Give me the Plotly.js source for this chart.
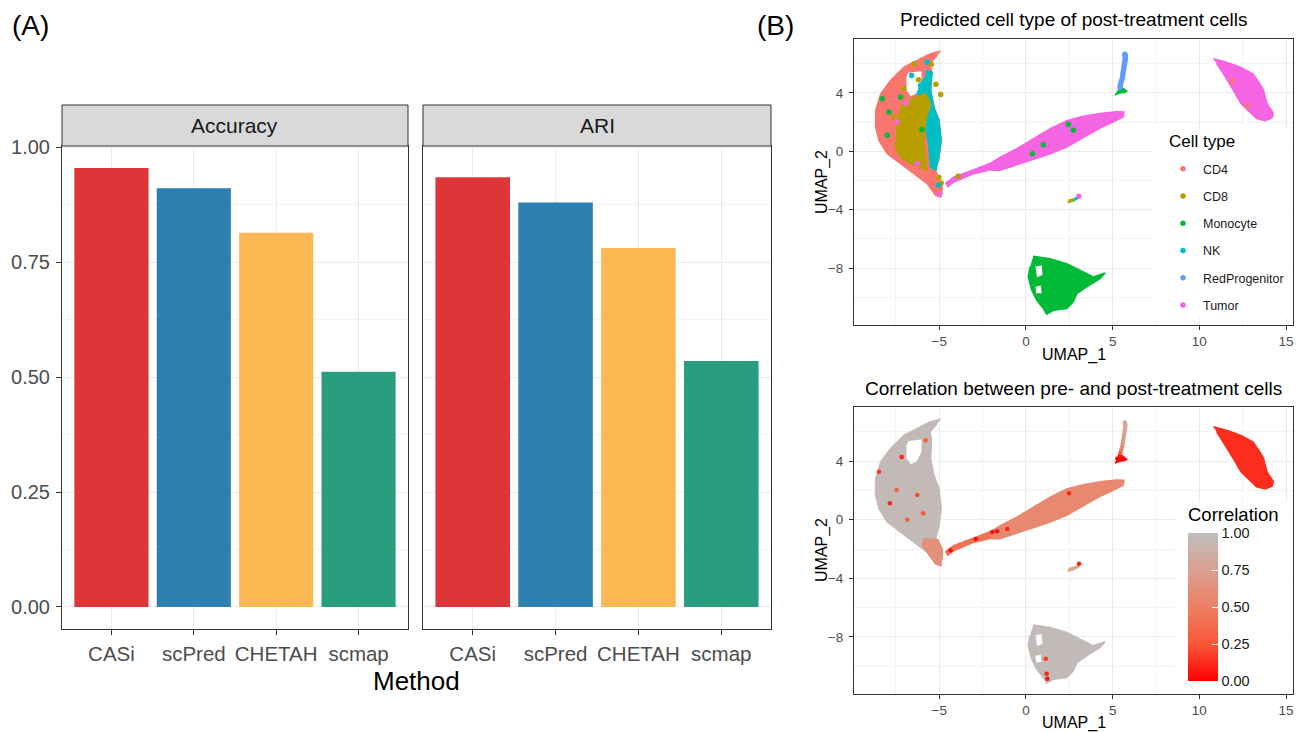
<!DOCTYPE html>
<html><head><meta charset="utf-8">
<script src="https://cdn.plot.ly/plotly-3.0.1.min.js"></script>
<style>html,body{margin:0;padding:0;background:#fff}</style>
</head><body><div id="chart" style="width:1304px;height:733px"></div>
<script>
// ---------- Panel A data ----------
const methods = ['CASi', 'scPred', 'CHETAH', 'scmap'];
const accuracy = [0.955, 0.911, 0.814, 0.512];
const ari = [0.935, 0.880, 0.781, 0.535];
const methodColors = ['#DC3639', '#2E80B0', '#FEB853', '#299E7F'];
const yTicks = [0, 0.25, 0.5, 0.75, 1];
const yTickText = ['0.00', '0.25', '0.50', '0.75', '1.00'];

// ---------- Panel B data (UMAP cluster outlines) ----------
const cellTypes = ['CD4', 'CD8', 'Monocyte', 'NK', 'RedProgenitor', 'Tumor'];
const cellColors = ['#F8766D', '#B79F00', '#00BA38', '#00BFC4', '#619CFF', '#F564E3'];

const leftX = [-4.92,-5.5,-6.08,-7.04,-7.81,-8.38,-8.67,-8.67,-8.48,-8.0,-7.23,-6.46,-5.7,-5.21,-4.92,-4.83,-5.0,-5.21,-5.02,-4.89,-5.02,-5.31,-5.5,-5.45,-5.55,-5.12];
const leftY = [6.87,6.69,6.35,5.77,4.86,3.95,2.81,1.67,0.75,-0.16,-0.84,-1.53,-2.21,-3.01,-3.13,-2.44,-2.0,-1.3,-0.39,0.75,2.12,3.03,4.18,5.5,6.0,6.58];
const leftHoleX = [-6.75,-5.98,-5.98,-6.27,-6.65,-6.94,-6.94];
const leftHoleY = [5.43,5.55,4.64,3.95,3.72,4.18,4.98];
const nkX = [-5.79,-5.41,-5.5,-5.31,-5.02,-4.89,-5.02,-5.21,-5.5,-5.6,-5.79,-5.98,-6.27,-6.08,-5.79];
const nkY = [5.55,5.43,4.18,3.03,2.12,0.75,-0.39,-1.3,-1.07,0.29,1.67,2.81,3.95,4.64,5.09];
const cd8X = [-7.23,-6.56,-5.79,-5.5,-5.79,-5.89,-5.79,-5.7,-6.08,-6.65,-7.23,-7.52,-7.43,-7.43];
const cd8Y = [3.03,3.61,3.95,3.27,2.12,0.75,-0.39,-1.3,-1.07,-0.84,-0.39,0.29,1.44,2.35];
const tailX = [-5.9,-5.1,-4.83,-4.83,-4.92,-5.21,-5.7,-6.0];
const tailY = [-1.3,-1.35,-2.0,-2.44,-3.13,-3.01,-2.21,-1.7];
const armThinX = [-4.65,-4.15,-3.0,-2.0,-2.0,-3.0,-4.15,-4.55];
const armThinY = [-2.2,-1.76,-1.25,-0.78,-1.25,-1.53,-2.1,-2.45];
const armMainX = [-2.0,-1.5,-0.5,0.42,1.4,2.35,3.3,4.27,5.2,5.65,5.6,5.0,4.27,3.3,2.35,1.4,0.42,-0.5,-1.5,-2.0];
const armMainY = [-0.78,-0.42,0.2,0.87,1.55,2.1,2.4,2.6,2.72,2.7,2.35,2.0,1.6,0.95,0.3,-0.16,-0.55,-0.95,-1.3,-1.3];
const tumor2X = [10.81,11.6,12.4,13.1,13.5,13.7,13.9,14.27,14.2,13.8,13.3,12.4,11.96,11.4,11.0];
const tumor2Y = [6.35,6.1,5.75,5.3,4.6,4.18,3.27,2.6,2.3,2.1,2.25,3.27,4.18,5.3,6.0];
const monoX = [0.42,1.38,2.35,3.12,3.88,4.56,4.27,3.5,2.93,2.73,2.35,1.58,1.19,1.0,0.62,0.33,0.13,0.23];
const monoY = [-7.19,-7.35,-7.7,-8.15,-8.61,-8.33,-8.72,-9.29,-9.75,-10.32,-10.77,-10.89,-11.16,-10.77,-10.2,-9.52,-8.61,-7.92];
const monoHole1X = [0.5,0.6,1.0,0.95];
const monoHole1Y = [-7.9,-8.7,-8.5,-7.8];
const monoHole2X = [0.5,0.55,0.95,0.9];
const monoHole2Y = [-9.3,-9.8,-9.75,-9.2];
const monoSmallX = [5.14,5.33,5.52,5.81,5.62];
const monoSmallY = [3.84,4.18,4.4,4.13,4.0];
const smallCd8X = [2.4,2.75,2.78,2.45];
const smallCd8Y = [-3.52,-3.4,-3.25,-3.35];
const smallNkX = [2.75,3.05,3.1,2.78];
const smallNkY = [-3.4,-3.2,-3.05,-3.25];
const redProgX = [5.42,5.45,5.5,5.55,5.58,5.6,5.63,5.65,5.68,5.7,5.72,5.73,5.72,5.7];
const redProgY = [4.4,4.6,4.8,5.0,5.2,5.4,5.6,5.8,6.0,6.15,6.3,6.45,6.55,6.65];

// scattered single cells (top panel)
const cd4DotX = [11.9,12.77,-4.95,-5.1];
const cd4DotY = [4.82,3.15,-2.85,-2.6];
const cd8DotX = [-4.92,-6.46,-5.46,-5.02,-4.89,-3.92,-7.04,-7.62,-6.2,-5.2];
const cd8DotY = [3.9,6.0,5.96,-1.8,-2.17,-1.71,4.29,2.35,4.9,4.6];
const monoDotX = [-8.29,-7.9,-8.0,-7.23,2.44,2.73,0.37,1.0,-6.0];
const monoDotY = [3.61,2.69,1.1,3.72,1.85,1.44,-0.16,0.46,1.5];
const nkDotX = [-6.08,-5.7,-5.05,-6.6];
const nkDotY = [4.52,6.1,-2.3,5.2];
const tumorDotX = [-7.43,-5.02,-6.27,3.05,-6.9];
const tumorDotY = [2.01,-2.9,-0.84,-3.07,3.3];

// correlation values (bottom panel)
const corrLeft = 0.96, corrTail = 0.62, corrArmThin = 0.42, corrArmMain = 0.57;
const corrTumor2 = 0.13, corrMono = 0.97, corrMonoSmall = 0.03, corrSmall = 0.78;
const redProgCorr = [0.1,0.3,0.5,0.6,0.65,0.7,0.72,0.75,0.75,0.78,0.8,0.8,0.8,0.8];
const corrDotX = [-7.17,-8.48,-7.85,-7.46,-6.27,-5.93,-6.85,-5.79,-4.35,-2.9,-1.94,-1.66,-1.08,2.48,1.23,1.19,1.14,3.06,5.27];
const corrDotY = [4.29,3.27,1.13,2.03,1.69,0.45,0.0,5.42,-2.08,-1.31,-0.84,-0.79,-0.63,1.81,-10.85,-10.51,-9.49,-3.0,4.18];
const corrDotV = [0.1,0.15,0.1,0.3,0.2,0.25,0.3,0.3,0.05,0.05,0.05,0.05,0.1,0.1,0.05,0.1,0.15,0.1,0.0];

const corrScale = [[0,'#FF0000'],[0.25,'#F95738'],[0.5,'#ED7F64'],[0.75,'#DBA090'],[1,'#BEBEBE']];

// ---------- helpers ----------
const W = 1304, H = 733;
const fx = p => p / W, fy = p => 1 - p / H;
function hex2rgb(h){return [parseInt(h.substr(1,2),16),parseInt(h.substr(3,2),16),parseInt(h.substr(5,2),16)];}
function corrColor(v){
  for (let i = 1; i < corrScale.length; i++) {
    if (v <= corrScale[i][0]) {
      const a = corrScale[i-1], b = corrScale[i];
      const t = (v - a[0]) / (b[0] - a[0]);
      const ca = hex2rgb(a[1]), cb = hex2rgb(b[1]);
      return 'rgb(' + ca.map((c,k)=>Math.round(c + (cb[k]-c)*t)).join(',') + ')';
    }
  }
  return corrScale[corrScale.length-1][1];
}
function withHoles(xs, ys, holes){
  let X = xs.slice(), Y = ys.slice();
  (holes||[]).forEach(h => { X.push(null); Y.push(null); X = X.concat(h[0]); Y = Y.concat(h[1]); });
  return [X, Y];
}
function poly(xs, ys, color, xa, ya, holes){
  const p = withHoles(xs, ys, holes);
  return {type:'scatter', mode:'lines', x:p[0], y:p[1], fill:'toself', fillcolor:color,
    line:{color:color, width:1.5}, hoverinfo:'skip', showlegend:false, xaxis:xa, yaxis:ya};
}
function dots(xs, ys, color, name, xa, ya, legend){
  return {type:'scatter', mode:'markers', x:xs, y:ys, name:name, legendgroup:name,
    marker:{color:color, size:5.5}, showlegend:!!legend, hoverinfo:'skip', xaxis:xa, yaxis:ya};
}

const traces = [];
// Panel A bars
traces.push({type:'bar', x:methods, y:accuracy, marker:{color:methodColors}, xaxis:'x', yaxis:'y', showlegend:false, hoverinfo:'skip'});
traces.push({type:'bar', x:methods, y:ari, marker:{color:methodColors}, xaxis:'x2', yaxis:'y2', showlegend:false, hoverinfo:'skip'});

// Panel B top: cell types
const leftHoles = [[leftHoleX, leftHoleY]];
const monoHoles = [[monoHole1X, monoHole1Y], [monoHole2X, monoHole2Y]];
traces.push(poly(leftX, leftY, cellColors[0], 'x3', 'y3', leftHoles));
traces.push(poly(nkX, nkY, cellColors[3], 'x3', 'y3'));
traces.push(poly(cd8X, cd8Y, cellColors[1], 'x3', 'y3'));
traces.push(poly(armThinX, armThinY, cellColors[5], 'x3', 'y3'));
traces.push(poly(armMainX, armMainY, cellColors[5], 'x3', 'y3'));
traces.push(poly(tumor2X, tumor2Y, cellColors[5], 'x3', 'y3'));
traces.push(poly(monoX, monoY, cellColors[2], 'x3', 'y3', monoHoles));
traces.push(poly(monoSmallX, monoSmallY, cellColors[2], 'x3', 'y3'));
traces.push(poly(smallCd8X, smallCd8Y, cellColors[1], 'x3', 'y3'));
traces.push(poly(smallNkX, smallNkY, cellColors[3], 'x3', 'y3'));
traces.push(dots(cd4DotX, cd4DotY, cellColors[0], cellTypes[0], 'x3', 'y3', true));
traces.push(dots(cd8DotX, cd8DotY, cellColors[1], cellTypes[1], 'x3', 'y3', true));
traces.push(dots(monoDotX, monoDotY, cellColors[2], cellTypes[2], 'x3', 'y3', true));
traces.push(dots(nkDotX, nkDotY, cellColors[3], cellTypes[3], 'x3', 'y3', true));
traces.push(dots(redProgX, redProgY, cellColors[4], cellTypes[4], 'x3', 'y3', true));
traces.push(dots(tumorDotX, tumorDotY, cellColors[5], cellTypes[5], 'x3', 'y3', true));

// Panel B bottom: correlation
traces.push(poly(leftX, leftY, corrColor(corrLeft), 'x4', 'y4', leftHoles));
traces.push(poly(tailX, tailY, corrColor(corrTail), 'x4', 'y4'));
traces.push(poly(armThinX, armThinY, corrColor(corrArmThin), 'x4', 'y4'));
traces.push(poly(armMainX, armMainY, corrColor(corrArmMain), 'x4', 'y4'));
traces.push(poly(tumor2X, tumor2Y, corrColor(corrTumor2), 'x4', 'y4'));
traces.push(poly(monoX, monoY, corrColor(corrMono), 'x4', 'y4', monoHoles));
traces.push(poly(monoSmallX, monoSmallY, corrColor(corrMonoSmall), 'x4', 'y4'));
traces.push(poly(smallCd8X, smallCd8Y, corrColor(corrSmall), 'x4', 'y4'));
traces.push(poly(smallNkX, smallNkY, corrColor(corrSmall), 'x4', 'y4'));
traces.push({type:'scatter', mode:'markers', x:redProgX, y:redProgY, marker:{color:redProgCorr, coloraxis:'coloraxis', size:4.5},
  xaxis:'x4', yaxis:'y4', showlegend:false, hoverinfo:'skip'});
traces.push({type:'scatter', mode:'markers', x:corrDotX, y:corrDotY, marker:{color:corrDotV, coloraxis:'coloraxis', size:4.5},
  xaxis:'x4', yaxis:'y4', showlegend:false, hoverinfo:'skip'});

// ---------- axes ----------
const frame = {showline:true, mirror:true, linecolor:'#333333', linewidth:1, zeroline:false, gridcolor:'#EBEBEB', gridwidth:1};
const barX = Object.assign({}, frame, {type:'category', range:[-0.6,3.6], ticks:'outside', ticklen:5, tickcolor:'#333333',
  tickfont:{size:20.5, color:'#4D4D4D'}, ticklabelstandoff:1, showgrid:true, fixedrange:true});
const barY = Object.assign({}, frame, {range:[-0.048,1.003], tickvals:yTicks, ticktext:yTickText, showgrid:true,
  minor:{tickvals:[0.125,0.375,0.625,0.875], showgrid:true, gridcolor:'#F3F3F3', ticks:''}});
const umapX = Object.assign({}, frame, {range:[-9.92,15.4], tickvals:[-5,0,5,10,15], ticks:'outside', ticklen:4, tickcolor:'#333333',
  tickfont:{size:13.5, color:'#4D4D4D'}, showgrid:true,
  minor:{tickvals:[-7.5,-2.5,2.5,7.5,12.5], showgrid:true, gridcolor:'#F3F3F3', ticks:''}});
const umapY = Object.assign({}, frame, {range:[-11.9,7.7], tickvals:[-8,-4,0,4], ticks:'outside', ticklen:4, tickcolor:'#333333',
  tickfont:{size:13.5, color:'#4D4D4D'}, showgrid:true, ticklabelstandoff:3,
  minor:{tickvals:[-10,-6,-2,2,6], showgrid:true, gridcolor:'#F3F3F3', ticks:''}});

const ann = (text, x, y, size, extra) => Object.assign({text:text, x:fx(x), y:fy(y), xref:'paper', yref:'paper',
  xanchor:'center', yanchor:'middle', showarrow:false, font:{size:size, color:'#000000'}}, extra || {});

const layout = {
  width:W, height:H, margin:{l:0,r:0,t:0,b:0}, paper_bgcolor:'#FFFFFF', plot_bgcolor:'#FFFFFF',
  font:{family:'Liberation Sans, Arial, sans-serif', color:'#1A1A1A'},
  bargap:0.1, hovermode:false, showlegend:true,
  xaxis: Object.assign({}, barX, {domain:[fx(62), fx(408)], anchor:'y'}),
  yaxis: Object.assign({}, barY, {domain:[fy(629), fy(146)], anchor:'x', ticks:'outside', ticklen:5, tickcolor:'#333333',
    tickfont:{size:20, color:'#4D4D4D'}, ticklabelstandoff:2}),
  xaxis2: Object.assign({}, barX, {domain:[fx(423), fx(771)], anchor:'y2'}),
  yaxis2: Object.assign({}, barY, {domain:[fy(629), fy(146)], anchor:'x2', showticklabels:false, ticks:''}),
  xaxis3: Object.assign({}, umapX, {domain:[fx(854), fx(1293)], anchor:'y3'}),
  yaxis3: Object.assign({}, umapY, {domain:[fy(325), fy(39)], anchor:'x3'}),
  xaxis4: Object.assign({}, umapX, {domain:[fx(854), fx(1293)], anchor:'y4'}),
  yaxis4: Object.assign({}, umapY, {domain:[fy(694), fy(407)], anchor:'x4'}),
  coloraxis: {cmin:0, cmax:1, colorscale:corrScale, colorbar:{
    x:fx(1188), xanchor:'left', y:fy(681), yanchor:'bottom', len:148, lenmode:'pixels',
    thickness:30, thicknessmode:'pixels', outlinewidth:0, xpad:0, ypad:0,
    tickvals:yTicks, ticktext:yTickText, ticks:'inside', ticklen:6, tickcolor:'#FFFFFF',
    tickfont:{size:14.5, color:'#1A1A1A'}, title:{text:''}}},
  legend: {x:fx(1163), y:fy(154), xanchor:'left', yanchor:'top', bgcolor:'rgba(0,0,0,0)',
    font:{size:12.5, color:'#1A1A1A'}, itemsizing:'trace', tracegroupgap:8, traceorder:'grouped'},
  shapes: [
    {type:'rect', xref:'paper', yref:'paper', x0:fx(62), x1:fx(408), y0:fy(146), y1:fy(105), fillcolor:'#D9D9D9', line:{color:'#333333', width:1}},
    {type:'rect', xref:'paper', yref:'paper', x0:fx(423), x1:fx(771), y0:fy(146), y1:fy(105), fillcolor:'#D9D9D9', line:{color:'#333333', width:1}},
    {type:'rect', xref:'paper', yref:'paper', x0:fx(1153), x1:fx(1291.5), y0:fy(318), y1:fy(128), fillcolor:'#FFFFFF', line:{width:0}, layer:'above'},
    {type:'rect', xref:'paper', yref:'paper', x0:fx(1175), x1:fx(1291.5), y0:fy(692.5), y1:fy(502), fillcolor:'#FFFFFF', line:{width:0}, layer:'above'}
  ],
  annotations: [
    ann('(A)', 10, 25, 28, {xanchor:'left'}),
    ann('(B)', 755, 25, 28, {xanchor:'left'}),
    ann('Accuracy', 235, 126, 21, {font:{size:21, color:'#1A1A1A'}}),
    ann('ARI', 597, 126, 21, {font:{size:21, color:'#1A1A1A'}}),
    ann('Method', 416, 681, 26),
    ann('Predicted cell type of post-treatment cells', 1073.5, 20, 19),
    ann('Correlation between pre- and post-treatment cells', 1073.5, 388, 19),
    ann('UMAP_1', 1073.5, 355, 16),
    ann('UMAP_1', 1073.5, 723, 16),
    ann('UMAP_2', 822, 182, 16, {textangle:-90}),
    ann('UMAP_2', 822, 550, 16, {textangle:-90}),
    ann('Cell type', 1167, 141, 17, {xanchor:'left'}),
    ann('Correlation', 1186, 514, 18.5, {xanchor:'left'})
  ]
};

Plotly.newPlot('chart', traces, layout, {staticPlot:true, displayModeBar:false});
</script></body></html>
